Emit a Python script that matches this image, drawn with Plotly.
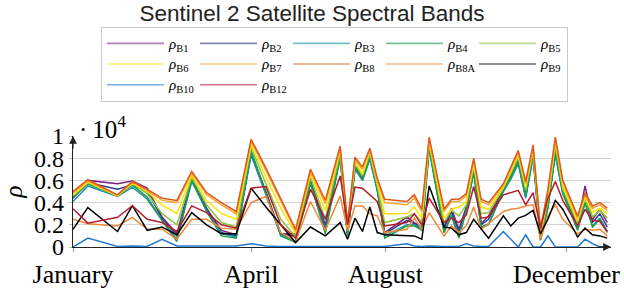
import plotly.graph_objects as go

# sample positions (acquisition index along the year)
x_pos = [0, 2, 6, 8, 10, 12, 14, 16, 18, 20, 22, 24, 26, 28, 30, 32, 34, 36,
         37, 38, 39, 40, 41, 42, 45, 46, 47, 48,
         50, 51, 52, 53, 54, 55, 56, 58, 59, 60, 61, 62, 63, 64, 65, 66,
         68, 69, 70, 71, 72]

tick_pos = [0, 24, 42.1, 66.5]
tick_lab = ["January", "April", "August", "December"]

B1 = [0.49, 0.60, 0.57, 0.595, 0.53, 0.27, 0.12, 0.62, 0.35, 0.15, 0.11, 0.85, 0.50, 0.12, 0.12, 0.60, 0.20, 0.83,
      0.12, 0.73, 0.62, 0.81, 0.53, 0.13, 0.27, 0.22, 0.18, 0.90,
      0.18, 0.35, 0.16, 0.36, 0.70, 0.21, 0.28, 0.515, 0.64, 0.78, 0.47, 0.84, 0.09, 0.38, 0.86, 0.50,
      0.19, 0.55, 0.25, 0.34, 0.22]
B2 = [0.44, 0.58, 0.52, 0.56, 0.50, 0.26, 0.10, 0.60, 0.34, 0.13, 0.10, 0.84, 0.48, 0.115, 0.10, 0.58, 0.16, 0.81,
      0.11, 0.71, 0.605, 0.80, 0.52, 0.12, 0.24, 0.21, 0.17, 0.89,
      0.16, 0.32, 0.13, 0.35, 0.68, 0.20, 0.25, 0.505, 0.62, 0.76, 0.45, 0.82, 0.08, 0.37, 0.84, 0.49,
      0.17, 0.47, 0.22, 0.30, 0.18]
B3 = [0.41, 0.55, 0.455, 0.54, 0.43, 0.24, 0.07, 0.59, 0.33, 0.12, 0.09, 0.83, 0.47, 0.11, 0.05, 0.57, 0.14, 0.80,
      0.10, 0.70, 0.60, 0.79, 0.51, 0.10, 0.20, 0.20, 0.16, 0.88,
      0.14, 0.29, 0.10, 0.33, 0.67, 0.18, 0.21, 0.50, 0.61, 0.75, 0.44, 0.81, 0.07, 0.36, 0.83, 0.48,
      0.16, 0.40, 0.19, 0.26, 0.14]
B4 = [0.45, 0.57, 0.46, 0.56, 0.45, 0.24, 0.05, 0.61, 0.32, 0.10, 0.08, 0.87, 0.48, 0.10, 0.04, 0.59, 0.12, 0.82,
      0.10, 0.72, 0.61, 0.81, 0.52, 0.08, 0.19, 0.19, 0.15, 0.90,
      0.13, 0.28, 0.08, 0.33, 0.69, 0.17, 0.20, 0.51, 0.63, 0.78, 0.46, 0.83, 0.06, 0.35, 0.87, 0.49,
      0.15, 0.40, 0.18, 0.25, 0.13]
B5 = [0.46, 0.58, 0.46, 0.57, 0.48, 0.30, 0.20, 0.63, 0.38, 0.22, 0.18, 0.90, 0.57, 0.25, 0.09, 0.63, 0.25, 0.85,
      0.15, 0.75, 0.64, 0.84, 0.55, 0.22, 0.27, 0.30, 0.22, 0.93,
      0.22, 0.33, 0.28, 0.38, 0.73, 0.30, 0.31, 0.53, 0.66, 0.81, 0.51, 0.86, 0.11, 0.41, 0.92, 0.52,
      0.21, 0.44, 0.27, 0.33, 0.26]
B6 = [0.47, 0.585, 0.46, 0.575, 0.50, 0.38, 0.30, 0.65, 0.42, 0.30, 0.25, 0.92, 0.63, 0.35, 0.12, 0.66, 0.33, 0.87,
      0.18, 0.77, 0.66, 0.86, 0.58, 0.30, 0.30, 0.36, 0.26, 0.95,
      0.26, 0.34, 0.36, 0.41, 0.75, 0.36, 0.34, 0.54, 0.68, 0.83, 0.54, 0.88, 0.13, 0.44, 0.95, 0.55,
      0.24, 0.45, 0.31, 0.35, 0.30]
B7 = [0.49, 0.595, 0.465, 0.585, 0.51, 0.42, 0.40, 0.665, 0.47, 0.38, 0.30, 0.95, 0.69, 0.41, 0.14, 0.68, 0.39, 0.89,
      0.20, 0.79, 0.70, 0.87, 0.60, 0.40, 0.38, 0.44, 0.32, 0.97,
      0.32, 0.41, 0.41, 0.46, 0.78, 0.41, 0.38, 0.555, 0.70, 0.85, 0.57, 0.90, 0.15, 0.49, 0.97, 0.58,
      0.26, 0.48, 0.35, 0.38, 0.33]
B8 = [0.50, 0.606, 0.47, 0.59, 0.52, 0.44, 0.42, 0.68, 0.49, 0.40, 0.32, 0.97, 0.71, 0.44, 0.16, 0.70, 0.42, 0.91,
      0.22, 0.81, 0.72, 0.89, 0.62, 0.43, 0.41, 0.47, 0.34, 0.99,
      0.34, 0.43, 0.43, 0.48, 0.80, 0.43, 0.40, 0.57, 0.72, 0.87, 0.59, 0.92, 0.16, 0.52, 0.99, 0.60,
      0.28, 0.49, 0.37, 0.40, 0.35]
B8A = [0.25, 0.21, 0.19, 0.267, 0.16, 0.16, 0.07, 0.25, 0.25, 0.17, 0.16, 0.40, 0.455, 0.13, 0.05, 0.41, 0.15, 0.46,
       0.15, 0.37, 0.37, 0.30, 0.28, 0.13, 0.16, 0.26, 0.16, 0.31,
       0.10, 0.19, 0.13, 0.19, 0.36, 0.16, 0.21, 0.32, 0.34, 0.35, 0.37, 0.38, 0.07, 0.28, 0.38, 0.25,
       0.12, 0.16, 0.15, 0.16, 0.10]
B9 = [0.16, 0.355, 0.14, 0.372, 0.15, 0.18, 0.11, 0.31, 0.20, 0.12, 0.12, 0.53, 0.36, 0.20, 0.04, 0.18, 0.10, 0.22,
      0.07, 0.26, 0.14, 0.36, 0.13, 0.11, 0.10, 0.10, 0.07, 0.55,
      0.18, 0.17, 0.11, 0.13, 0.25, 0.16, 0.08, 0.28, 0.19, 0.26, 0.285, 0.33, 0.12, 0.25, 0.42, 0.34,
      0.09, 0.17, 0.11, 0.10, 0.08]
B10 = [0.0, 0.08, 0.005, 0.01, 0.005, 0.07, 0.01, 0.01, 0.01, 0.01, 0.01, 0.03, 0.01, 0.005, 0.005, 0.005, 0.005, 0.005,
       0.005, 0.005, 0.005, 0.005, 0.005, 0.005, 0.03, 0.01, 0.005, 0.01,
       0.005, 0.005, 0.005, 0.03, 0.01, 0.005, 0.005, 0.14, 0.07, 0.0, 0.11, 0.0, 0.0, 0.10, 0.0, 0.0,
       0.0, 0.07, 0.03, 0.0, 0.0]
B12 = [0.345, 0.215, 0.267, 0.372, 0.25, 0.22, 0.14, 0.37, 0.31, 0.20, 0.17, 0.53, 0.545, 0.20, 0.08, 0.52, 0.25, 0.64,
       0.20, 0.54, 0.53, 0.47, 0.41, 0.19, 0.22, 0.30, 0.20, 0.44,
       0.22, 0.26, 0.22, 0.29, 0.545, 0.26, 0.27, 0.47, 0.49, 0.51, 0.38, 0.49, 0.17, 0.44, 0.59, 0.42,
       0.19, 0.34, 0.24, 0.23, 0.14]

band_names = ["B1", "B2", "B3", "B4", "B5", "B6", "B7", "B8", "B8A", "B9", "B10", "B12"]
band_values = [B1, B2, B3, B4, B5, B6, B7, B8, B8A, B9, B10, B12]
band_colors = ["#7b2482", "#2e3b8c", "#1f93a8", "#1f9a4c", "#8cc63f", "#ffe400",
               "#f6a631", "#de5a1c", "#ef8838", "#000000", "#1f78d1", "#b31d2e"]

SERIF = "Liberation Serif, Times New Roman, Times, serif"
SANS = "Liberation Sans, Arial, Helvetica, sans-serif"

fig = go.Figure()
for name, vals, col in zip(band_names, band_values, band_colors):
    fig.add_trace(go.Scatter(
        x=x_pos, y=vals, mode="lines", name=name, showlegend=False,
        line=dict(color=col, width=1.5)))
# legend entries (the reference legend shows the line colours slightly faded)
for name, col in zip(band_names, band_colors):
    fig.add_trace(go.Scatter(
        x=[None], y=[None], mode="lines", opacity=0.6, showlegend=True,
        name="<span style='font-size:15px'><i>ρ</i><sub>%s</sub></span>" % name,
        line=dict(color=col, width=1.6)))

fig.update_layout(
    width=624, height=288,
    margin=dict(l=73, r=13, t=136, b=41, autoexpand=False),
    paper_bgcolor="white", plot_bgcolor="white",
    title=dict(text="Sentinel 2 Satellite Spectral Bands", x=0.5, xref="container",
               y=1 - 13 / 288, yref="container", yanchor="middle", xanchor="center",
               font=dict(family=SANS, size=22.5, color="#222")),
    showlegend=True,
    legend=dict(orientation="h", x=(101 - 73) / 538, y=1.982, xanchor="left", yanchor="top",
                font=dict(family=SERIF, size=13.6, color="black"),
                bordercolor="#c8c8c8", borderwidth=1, bgcolor="white",
                itemwidth=57, entrywidth=21, entrywidthmode="pixels",
                tracegroupgap=0, itemclick=False),
    xaxis=dict(range=[0, 72.5], showgrid=False, zeroline=False,
               showline=True, linecolor="#222", linewidth=1.3,
               tickmode="array", tickvals=tick_pos, ticktext=tick_lab,
               ticks="outside", ticklen=4, tickcolor="#999",
               tickfont=dict(family=SERIF, size=26, color="black")),
    yaxis=dict(range=[0, 1.0], showgrid=True, gridcolor="#d3d3d3", gridwidth=1.3,
               zeroline=False, showline=True, linecolor="#222", linewidth=1.3,
               tickmode="array", tickvals=[0, 0.2, 0.4, 0.6, 0.8, 1.0],
               ticktext=["0", "0.2", "0.4", "0.6", "0.8", "1"],
               ticks="outside", ticklen=3, tickcolor="#bbb",
               tickfont=dict(family=SERIF, size=24, color="black"),
               title=dict(text="<i>ρ</i>", font=dict(family=SERIF, size=25, color="black"),
                          standoff=10)),
)

fig.add_annotation(text="·\u200910<sup>4</sup>", xref="paper", yref="paper",
                   x=(77 - 73) / 538, y=(247 - 127) / 111, xanchor="left", yanchor="middle",
                   showarrow=False, font=dict(family=SERIF, size=25, color="black"))
# axis arrow heads
fig.add_annotation(x=1, y=0, xref="paper", yref="paper", ax=-14, ay=0, text="",
                   showarrow=True, arrowhead=2, arrowsize=1.2, arrowwidth=1.3, arrowcolor="#222")
fig.add_annotation(x=0, y=1, xref="paper", yref="paper", ax=0, ay=14, text="",
                   showarrow=True, arrowhead=2, arrowsize=1.2, arrowwidth=1.3, arrowcolor="#222")

fig.write_html("out.html", config={"displayModeBar": False},
               post_script="document.body.style.margin='0px';")
